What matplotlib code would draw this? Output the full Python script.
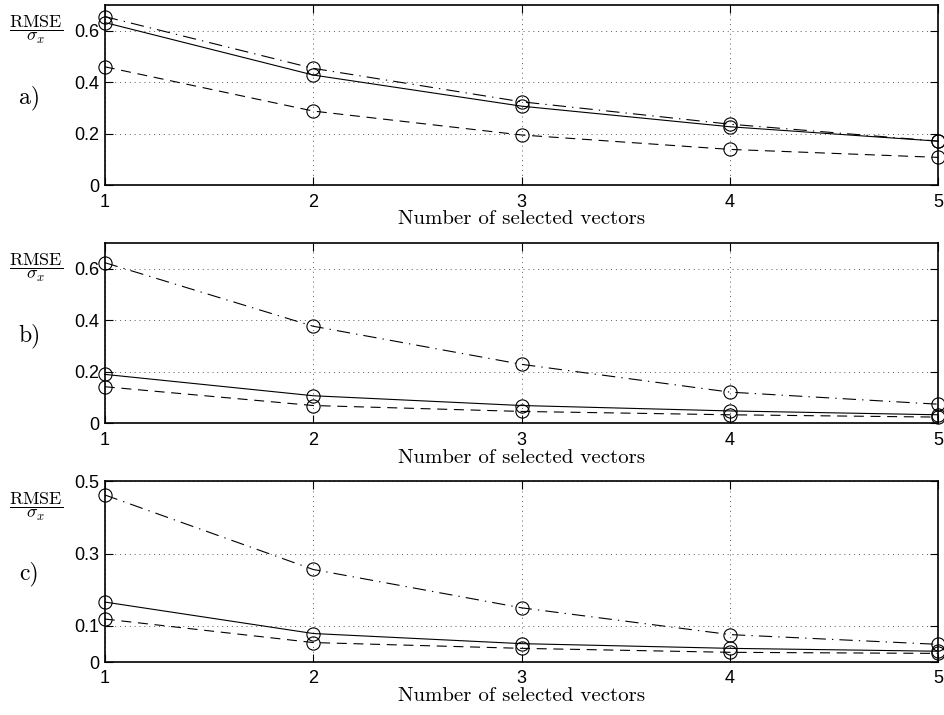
import matplotlib
matplotlib.use('Agg')
import matplotlib.pyplot as plt

plt.rcParams['mathtext.fontset'] = 'cm'

# number of selected vectors
x_vals = [1, 2, 3, 4, 5]

# panel a)
a_solid = [0.632, 0.428, 0.307, 0.227, 0.171]
a_dashed = [0.460, 0.288, 0.195, 0.139, 0.108]
a_dashdot = [0.655, 0.454, 0.324, 0.237, 0.171]

# panel b)
b_solid = [0.190, 0.107, 0.069, 0.048, 0.033]
b_dashed = [0.142, 0.069, 0.046, 0.033, 0.024]
b_dashdot = [0.624, 0.377, 0.229, 0.121, 0.074]

# panel c)
c_solid = [0.166, 0.079, 0.051, 0.038, 0.030]
c_dashed = [0.119, 0.054, 0.038, 0.027, 0.024]
c_dashdot = [0.462, 0.256, 0.150, 0.076, 0.049]

ab_yticks = [0, 0.2, 0.4, 0.6]
ab_ylabels = ['0', '0.2', '0.4', '0.6']
c_yticks = [0, 0.1, 0.3, 0.5]
c_ylabels = ['0', '0.1', '0.3', '0.5']

panels = [
    ('a', a_solid, a_dashed, a_dashdot, 0.7, ab_yticks, ab_ylabels),
    ('b', b_solid, b_dashed, b_dashdot, 0.7, ab_yticks, ab_ylabels),
    ('c', c_solid, c_dashed, c_dashdot, 0.5, c_yticks, c_ylabels),
]

# axes boxes in figure fractions [left, bottom, width, height]
boxes = [
    [0.111, 0.741, 0.883, 0.252],
    [0.111, 0.408, 0.883, 0.252],
    [0.111, 0.074, 0.883, 0.253],
]

fig = plt.figure(figsize=(9.44, 7.15), dpi=100)

for (tag, s, d, dd, ymax, yt, yl), box in zip(panels, boxes):
    ax = fig.add_axes(box)
    style = dict(color='black', lw=0.8, marker='o', ms=9.5, mfc='none',
                 mec='black', mew=0.8, clip_on=False)
    ax.plot(x_vals, s, ls='-', **style)
    ax.plot(x_vals, d, ls=(0, (9, 6)), **style)
    ax.plot(x_vals, dd, ls=(0, (12, 5.5, 1.2, 5.5)), **style)

    ax.set_xlim(1, 5)
    ax.set_ylim(0, ymax)
    ax.set_xticks(x_vals)
    ax.set_xticklabels([str(v) for v in x_vals], family='Liberation Sans', fontsize=13)
    ax.set_yticks(yt)
    ax.set_yticklabels(yl, family='Liberation Sans', fontsize=13)
    ax.tick_params(direction='in', top=True, right=True, length=6, width=0.8)
    ax.tick_params(axis='x', pad=6)
    ax.tick_params(axis='y', pad=4)
    ax.grid(True, color='0.35', ls=(0, (1, 4)), lw=0.7)
    for sp in ax.spines.values():
        sp.set_linewidth(1.2)

    ax.set_xlabel('Number of selected vectors', family='cmr10', fontsize=15, labelpad=0)

    top = box[1] + box[3]
    fig.text(0.038, top - 0.035, r'$\dfrac{\mathrm{RMSE}}{\sigma_x}$', fontsize=13,
             ha='center', va='center')
    fig.text(0.031, top - 0.13, tag + ')', family='cmr10', fontsize=17,
             ha='center', va='center')

fig.savefig('out.png', dpi=100)
